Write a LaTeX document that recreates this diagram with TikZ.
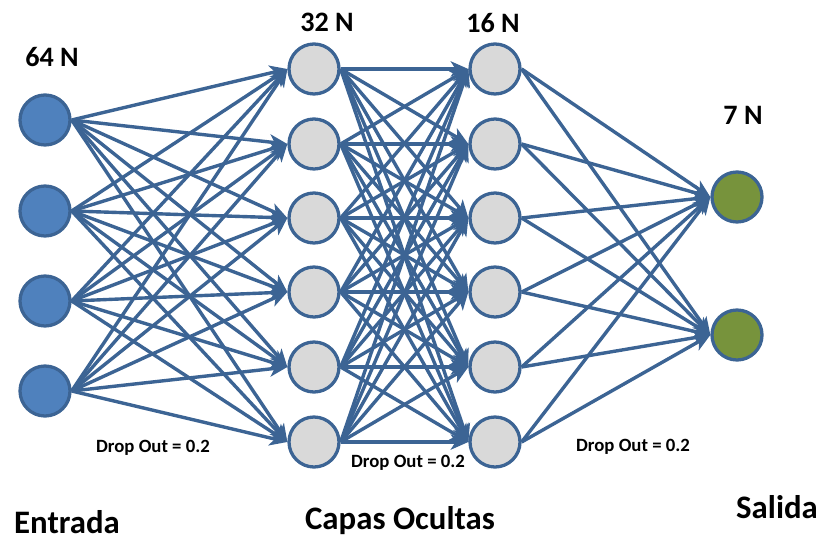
\documentclass[tikz,border=0pt]{standalone}
\usepackage{fontspec}
\setmainfont{Carlito}
\usetikzlibrary{arrows.meta}

\definecolor{linkblue}{HTML}{3C6494}
\definecolor{inblue}{HTML}{4F81BD}
\definecolor{outgreen}{HTML}{77933C}
\definecolor{hidgray}{HTML}{D9D9D9}

\tikzset{
  neuron/.style={circle,draw=linkblue,line width=2.8pt,minimum size=1.5cm,inner sep=0pt},
  link/.style={draw=linkblue,line width=2.9pt,-{Stealth[length=15pt,width=13pt,inset=4pt]}},
  layername/.style={font=\bfseries\fontsize{28}{30}\selectfont},
  count/.style={font=\bfseries\fontsize{24}{26}\selectfont},
  dropout/.style={font=\bfseries\fontsize{16}{18}\selectfont}
}

\begin{document}
\begin{tikzpicture}[x=0.03cm,y=-0.03cm]
  \useasboundingbox (0,0) rectangle (823,542);

  % Layer: Entrada
  \foreach \i/\y in {1/120,2/211,3/301,4/391}
    \node[neuron,fill=inblue] (in\i) at (45,\y) {};

  % Layer: Capas Ocultas
  \foreach \i/\y in {1/69,2/144,3/218,4/292,5/367,6/442} {
    \node[neuron,fill=hidgray] (ha\i) at (314,\y) {};
    \node[neuron,fill=hidgray] (hb\i) at (495,\y) {};
  }

  % Layer: Salida
  \node[neuron,fill=outgreen] (out1) at (737,197) {};
  \node[neuron,fill=outgreen] (out2) at (737,335) {};

  % Links
  \foreach \i in {1,...,4}
    \foreach \j in {1,...,6}
      \draw[link] (in\i.east) -- (ha\j.west);
  \foreach \i in {1,...,6}
    \foreach \j in {1,...,6}
      \draw[link] (ha\i.east) -- (hb\j.west);
  \foreach \i in {1,...,6}
    \foreach \j in {1,2}
      \draw[link] (hb\i.east) -- (out\j.west);

  % Sizes
  \node[count] (n64) at (52,57) {64 N};
  \node[count] (n32) at (327,22) {32 N};
  \node[count] (n16) at (493,23) {16 N};
  \node[count] (n7) at (743,115) {7 N};

  % Drop out
  \node[dropout] (dropa) at (153,448) {Drop Out = 0.2};
  \node[dropout] (dropb) at (408,463) {Drop Out = 0.2};
  \node[dropout] (dropc) at (633,447) {Drop Out = 0.2};

  % Names
  \node[layername] (entrada) at (67,522) {Entrada};
  \node[layername] (capas) at (400,521) {Capas Ocultas};
  \node[layername] (salida) at (777,507) {Salida};
\end{tikzpicture}
\end{document}
